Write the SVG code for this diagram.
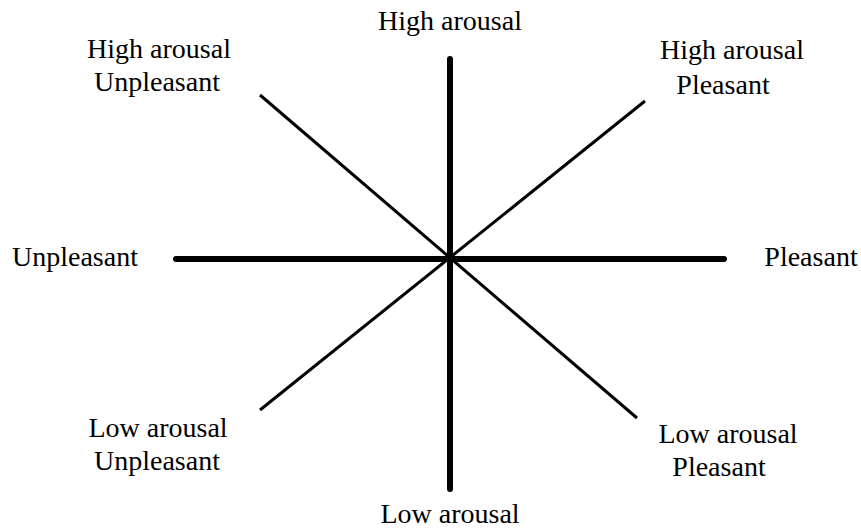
<svg xmlns="http://www.w3.org/2000/svg" width="861" height="528" viewBox="0 0 861 528">
<style>
text{font-family:"Liberation Serif","Times New Roman",serif;font-size:28px;fill:#000;text-anchor:middle}
.axis{stroke:#000;stroke-width:6;stroke-linecap:round}
.diag{stroke:#000;stroke-width:3}
</style>
<rect width="861" height="528" fill="#fff"/>
<g id="connectors">
<line class="diag" x1="260" y1="95" x2="637" y2="418"/>
<line class="diag" x1="645" y1="101" x2="260" y2="410"/>
<line class="axis" x1="450" y1="59" x2="450" y2="489"/>
<line class="axis" x1="176" y1="259" x2="724" y2="259"/>
</g>
<g id="high"><text x="450" y="30">High arousal</text></g>
<g id="high-unpleasant"><text x="159" y="58">High arousal</text><text x="157" y="91">Unpleasant</text></g>
<g id="high-pleasant"><text x="732" y="59">High arousal</text><text x="723" y="94">Pleasant</text></g>
<g id="unpleasant"><text x="75" y="266">Unpleasant</text></g>
<g id="pleasant"><text x="811" y="266">Pleasant</text></g>
<g id="low-unpleasant"><text x="158" y="437">Low arousal</text><text x="157" y="470">Unpleasant</text></g>
<g id="low-pleasant"><text x="728" y="443">Low arousal</text><text x="719" y="476">Pleasant</text></g>
<g id="low"><text x="450" y="523">Low arousal</text></g>
</svg>
